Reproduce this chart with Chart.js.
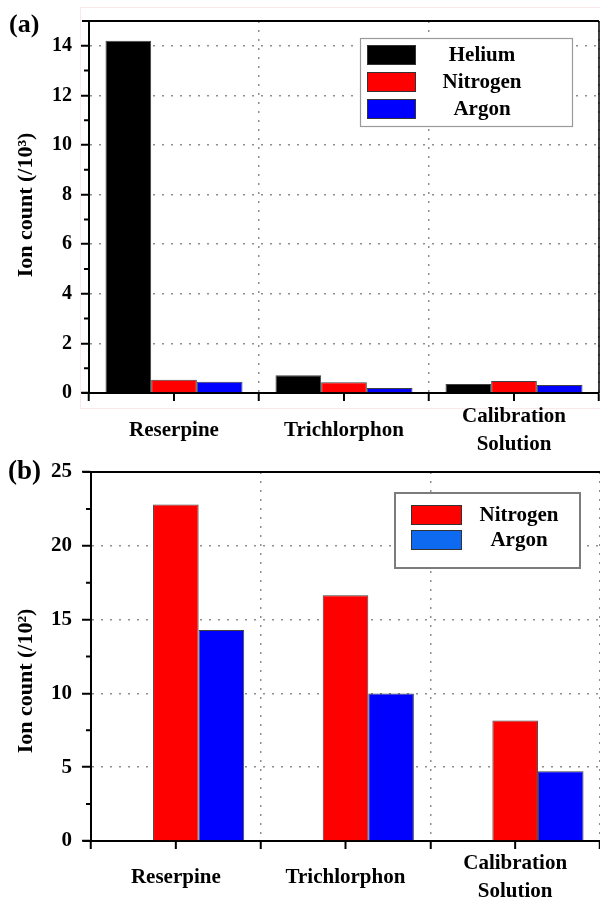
<!DOCTYPE html>
<html>
<head>
<meta charset="utf-8">
<script src="https://cdn.jsdelivr.net/npm/chart.js@4/dist/chart.umd.min.js"></script>
<style>
  body { margin: 0; background: #fff; }
  #wrap { position: relative; width: 600px; height: 899px; overflow: hidden; }
  .panel { position: absolute; left: 0; width: 600px; }
  #panelA { top: 0; height: 456px; }
  #panelB { top: 440px; height: 459px; }
</style>
</head>
<body>
<div id="wrap">
  <div class="panel" id="panelA"><canvas id="chartA" width="600" height="456"></canvas></div>
  <div class="panel" id="panelB"><canvas id="chartB" width="600" height="459"></canvas></div>
</div>
<script>
const categories = ['Reserpine', 'Trichlorphon', ['Calibration', 'Solution']];

// (a) ion count, units of 10^3
const heliumA = [14.2, 0.72, 0.36];
const nitrogenA = [0.53, 0.43, 0.48];
const argonA = [0.45, 0.20, 0.32];

// (b) ion count, units of 10^2 - no helium run, slot left empty
const heliumB = [null, null, null];
const nitrogenB = [22.8, 16.65, 8.17];
const argonB = [14.3, 10.0, 4.73];

const yTicksA = [0, 2, 4, 6, 8, 10, 12, 14];
const yMinorA = [1, 3, 5, 7, 9, 11, 13];
const yTicksB = [0, 5, 10, 15, 20, 25];
const yMinorB = [2.5, 7.5, 12.5, 17.5, 22.5];

const SERIF = "'Liberation Serif', 'Times New Roman', serif";
const GRID = '#8e8e8e';

// axis frame: top/right lines, left stub of the x axis, minor y ticks, centre x ticks
const frame = {
    id: 'frame',
    beforeDraw(chart, args, o) {
        if (!o.outline) return;
        const ctx = chart.ctx;
        ctx.save();
        ctx.strokeStyle = o.outline.color;
        ctx.lineWidth = 1;
        ctx.strokeRect(o.outline.x, o.outline.y, o.outline.w, o.outline.h);
        ctx.restore();
    },
    afterDraw(chart, args, o) {
        const { ctx, chartArea: a, scales: { x, y } } = chart;
        ctx.save();
        ctx.strokeStyle = '#000';
        ctx.lineWidth = 2;
        ctx.beginPath();
        ctx.moveTo(o.axisStart, a.top);
        ctx.lineTo(a.right, a.top);
        ctx.moveTo(o.axisStart, a.bottom);
        ctx.lineTo(a.left, a.bottom);
        o.minor.forEach(v => {
            const py = y.getPixelForValue(v);
            ctx.moveTo(a.left - 5, py);
            ctx.lineTo(a.left, py);
        });
        x.ticks.forEach((t, i) => {
            const px = x.getPixelForValue(i);
            ctx.moveTo(px, a.bottom);
            ctx.lineTo(px, a.bottom + 8);
        });
        ctx.stroke();
        if (o.rightLine) {
            ctx.lineWidth = o.rightLine;
            ctx.beginPath();
            ctx.moveTo(a.right, a.top);
            ctx.lineTo(a.right, a.bottom);
            ctx.stroke();
        }
        ctx.restore();
    }
};

// boxed legend sitting inside the plot
const boxLegend = {
    id: 'boxLegend',
    afterDraw(chart, args, o) {
        const ctx = chart.ctx;
        ctx.save();
        ctx.fillStyle = '#fff';
        ctx.fillRect(o.x, o.y, o.w, o.h);
        ctx.lineWidth = o.lineWidth;
        ctx.strokeStyle = o.lineColor;
        ctx.strokeRect(o.x, o.y, o.w, o.h);
        ctx.font = `bold ${o.fontSize}px ${SERIF}`;
        ctx.textAlign = 'center';
        ctx.textBaseline = 'middle';
        const shown = chart.data.datasets.filter(d => !d.hideInLegend);
        shown.forEach((d, i) => {
            const top = o.rowY[i];
            ctx.fillStyle = d.legendColor || d.backgroundColor;
            ctx.fillRect(o.swatchX, top, o.swatchW, o.swatchH);
            ctx.lineWidth = 1;
            ctx.strokeStyle = '#333';
            ctx.strokeRect(o.swatchX + 0.5, top + 0.5, o.swatchW - 1, o.swatchH - 1);
            ctx.fillStyle = '#000';
            ctx.fillText(d.label, o.textX, top + o.swatchH / 2 + 1);
        });
        ctx.restore();
    }
};

// panel letter and rotated y axis title
const sideText = {
    id: 'sideText',
    afterDraw(chart, args, o) {
        const ctx = chart.ctx;
        ctx.save();
        ctx.fillStyle = '#000';
        ctx.textAlign = 'left';
        ctx.textBaseline = 'middle';
        ctx.font = `bold ${o.letterSize}px ${SERIF}`;
        ctx.fillText(o.letter, o.letterX, o.letterY);
        ctx.translate(o.titleX, o.titleY);
        ctx.rotate(-Math.PI / 2);
        ctx.textAlign = 'center';
        ctx.font = `bold ${o.titleSize}px ${SERIF}`;
        ctx.fillText(o.title, 0, 0);
        ctx.restore();
    }
};

function barSet(label, data, color, extra) {
    return Object.assign({
        label,
        data,
        backgroundColor: color,
        borderColor: 'rgba(0,0,0,0.75)',
        borderWidth: 1,
        borderSkipped: 'bottom'
    }, extra || {});
}

function makeScales(cfg) {
    return {
        x: {
            offset: true,
            grid: { offset: true, color: GRID, lineWidth: 1.5, tickColor: '#000', tickWidth: 2, tickLength: 8, tickBorderDash: [] },
            border: { color: '#000', width: 2, dash: [2, 7] },
            ticks: {
                color: '#000',
                font: { family: SERIF, size: 21, weight: 'bold', lineHeight: 1.33 },
                padding: cfg.xPad,
                crossAlign: 'center',
                autoSkip: false,
                maxRotation: 0
            },
            afterFit: s => { s.height = cfg.xHeight; }
        },
        y: {
            min: 0,
            max: cfg.max,
            afterBuildTicks: s => { s.ticks = cfg.ticks.map(v => ({ value: v })); },
            grid: {
                color: c => (c.tick && (c.tick.value === 0 || c.tick.value === cfg.max)) ? 'rgba(0,0,0,0)' : GRID,
                lineWidth: 1.5, tickColor: '#000', tickWidth: 2, tickLength: cfg.tickLen, tickBorderDash: []
            },
            border: { color: '#000', width: 2, dash: [2, 7] },
            ticks: {
                color: '#000',
                font: { family: SERIF, size: cfg.tickSize, weight: 'bold' },
                padding: cfg.yPad
            },
            afterFit: s => { s.width = cfg.yWidth; }
        }
    };
}

const chartA = new Chart(document.getElementById('chartA'), {
    type: 'bar',
    data: {
        labels: categories,
        datasets: [
            barSet('Helium', heliumA, '#000000'),
            barSet('Nitrogen', nitrogenA, '#ff0000'),
            barSet('Argon', argonA, '#0000ff')
        ]
    },
    options: {
        responsive: false,
        animation: false,
        layout: { padding: { top: 16, right: 1, left: 0, bottom: 0 } },
        datasets: { bar: { categoryPercentage: 0.806, barPercentage: 1 } },
        scales: makeScales({ max: 15, ticks: yTicksA, xPad: 16, xHeight: 63, yWidth: 89, tickLen: 8, yPad: 9, tickSize: 20 }),
        plugins: {
            legend: { display: false },
            tooltip: { enabled: false },
            frame: { axisStart: 82, minor: yMinorA, rightLine: 1.5, outline: { x: 80.5, y: 7.5, w: 530, h: 401, color: '#fbe9e9' } },
            boxLegend: { x: 360.5, y: 38.5, w: 212, h: 88, lineWidth: 1.2, lineColor: '#9a9a9a', fontSize: 21,
                swatchX: 367, swatchW: 49, swatchH: 20, rowY: [45, 72, 99], textX: 482 },
            sideText: { letter: '(a)', letterX: 9, letterY: 25, letterSize: 26,
                title: 'Ion count (/10³)', titleX: 26, titleY: 205, titleSize: 22 }
        }
    },
    plugins: [frame, boxLegend, sideText]
});

const chartB = new Chart(document.getElementById('chartB'), {
    type: 'bar',
    data: {
        labels: categories,
        datasets: [
            barSet('Helium', heliumB, '#000000', { hideInLegend: true }),
            barSet('Nitrogen', nitrogenB, '#ff0000'),
            barSet('Argon', argonB, '#0000ff', { legendColor: '#0f6af2' })
        ]
    },
    options: {
        responsive: false,
        animation: false,
        layout: { padding: { top: 32, right: 0, left: 0, bottom: 0 } },
        datasets: { bar: { categoryPercentage: 0.806, barPercentage: 1 } },
        scales: makeScales({ max: 25, ticks: yTicksB, xPad: 15, xHeight: 58, yWidth: 91, tickLen: 9, yPad: 10, tickSize: 21 }),
        plugins: {
            legend: { display: false },
            tooltip: { enabled: false },
            frame: { axisStart: 83, minor: yMinorB, rightLine: 0 },
            boxLegend: { x: 395, y: 53, w: 185, h: 75, lineWidth: 2, lineColor: '#7c7c7c', fontSize: 21,
                swatchX: 411, swatchW: 51, swatchH: 20, rowY: [65, 90], textX: 519 },
            sideText: { letter: '(b)', letterX: 8, letterY: 32, letterSize: 27,
                title: 'Ion count (/10²)', titleX: 26, titleY: 241, titleSize: 22 }
        }
    },
    plugins: [frame, boxLegend, sideText]
});
</script>
</body>
</html>
